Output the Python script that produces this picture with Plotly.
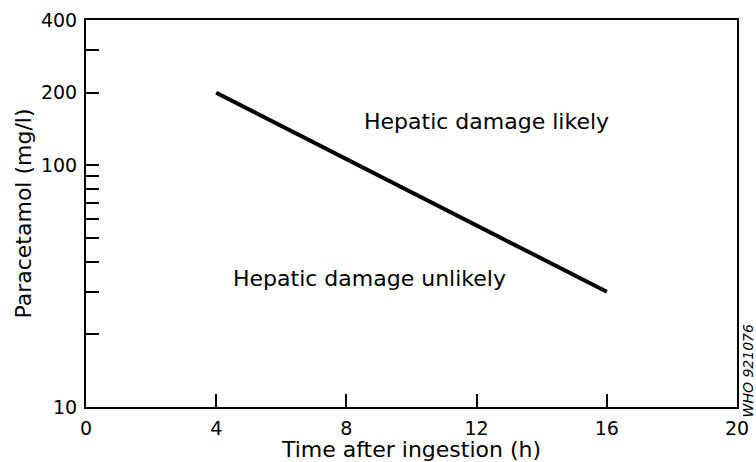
import plotly.graph_objects as go

# Treatment line: plasma paracetamol vs hours after ingestion
hours = [4, 16]
paracetamol = [200, 30]

y_tickvals = [10, 20, 30, 40, 50, 60, 70, 80, 90, 100, 200, 300, 400]
y_ticktext = ["10", "", "", "", "", "", "", "", "", "100", "200", "", "400"]
x_tickvals = [0, 4, 8, 12, 16, 20]

FONT = "DejaVu Sans"

fig = go.Figure()
fig.add_trace(go.Scatter(
    x=hours, y=paracetamol, mode="lines",
    line=dict(color="black", width=4),
    showlegend=False, hoverinfo="skip",
))

fig.update_layout(
    width=756, height=462,
    margin=dict(l=86, r=19, t=20, b=55),
    paper_bgcolor="white", plot_bgcolor="white",
    font=dict(family=FONT, color="black"),
    xaxis=dict(
        range=[0, 20], tickvals=x_tickvals, automargin=False,
        ticks="inside", ticklen=13, tickwidth=1.5, tickcolor="black",
        showline=True, linecolor="black", linewidth=2, mirror=True,
        showgrid=False, zeroline=False,
        tickfont=dict(size=19, family=FONT), ticklabelstandoff=3,
        title=dict(text="Time after ingestion (h)", font=dict(size=22, family=FONT), standoff=3),
    ),
    yaxis=dict(
        type="log", range=[1, 2.60206], automargin=False,
        tickvals=y_tickvals, ticktext=y_ticktext,
        ticks="inside", ticklen=13, tickwidth=1.5, tickcolor="black",
        showline=True, linecolor="black", linewidth=2, mirror=True,
        showgrid=False, zeroline=False,
        tickfont=dict(size=19, family=FONT), ticklabelstandoff=3,
        title=dict(text="Paracetamol (mg/l)", font=dict(size=22, family=FONT), standoff=3),
    ),
    annotations=[
        dict(text="Hepatic damage likely", xref="paper", yref="paper",
             x=0.615, y=0.739, xanchor="center", yanchor="middle",
             showarrow=False, font=dict(size=22, family=FONT)),
        dict(text="Hepatic damage unlikely", xref="paper", yref="paper",
             x=0.435, y=0.333, xanchor="center", yanchor="middle",
             showarrow=False, font=dict(size=22, family=FONT)),
        dict(text="<i>WHO 921076</i>", xref="paper", yref="paper",
             x=1.0175, y=0.093, xanchor="center", yanchor="middle",
             showarrow=False, textangle=-90,
             font=dict(size=14, family=FONT)),
    ],
)

fig.write_html("out.html")
